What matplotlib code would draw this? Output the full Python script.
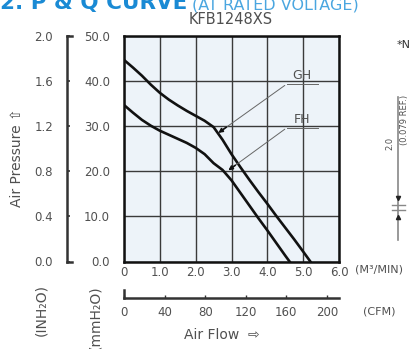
import numpy as np
import matplotlib.pyplot as plt
from matplotlib.lines import Line2D

plt.rcParams['font.family'] = ['DejaVu Sans']

# P-Q curve readings (airflow m3/min, static pressure mmH2O)
flow_gh = [0, 0.25, 0.5, 0.75, 1.0, 1.25, 1.5, 1.75, 2.0, 2.25, 2.5, 2.75,
           3.0, 3.25, 3.5, 3.75, 4.0, 4.25, 4.5, 4.75, 5.0, 5.2]
pres_gh = [44.7, 43.0, 41.2, 39.2, 37.4, 35.9, 34.6, 33.4, 32.3, 31.2, 29.8, 27.0,
           23.8, 20.9, 18.1, 15.4, 12.8, 10.1, 7.5, 4.9, 2.2, 0.0]

flow_fh = [0, 0.25, 0.5, 0.75, 1.0, 1.25, 1.5, 1.75, 2.0, 2.25, 2.5, 2.75,
           3.0, 3.25, 3.5, 3.75, 4.0, 4.25, 4.5, 4.62]
pres_fh = [34.7, 33.0, 31.4, 30.1, 29.0, 28.1, 27.2, 26.3, 25.2, 23.8, 21.8, 20.3,
           18.0, 15.2, 12.4, 9.6, 6.9, 4.1, 1.3, 0.0]

x_ticks = [0, 1, 2, 3, 4, 5, 6]
x_labels = ['0', '1.0', '2.0', '3.0', '4.0', '5.0', '6.0']
y_ticks = [0, 10, 20, 30, 40, 50]
y_labels = ['0.0', '10.0', '20.0', '30.0', '40.0', '50.0']
inch_ticks = [0, 0.4, 0.8, 1.2, 1.6, 2.0]
cfm_ticks = [0, 40, 80, 120, 160, 200]

W, H = 409, 349
txt = '#505050'

def px(x, y):
    return x / W, 1 - y / H

fig = plt.figure(figsize=(W / 100, H / 100), dpi=100)
ax = fig.add_axes([124 / W, 1 - 261.5 / H, 215 / W, 225.5 / H])
ax.set_facecolor('#edf3f9')
ax.set_xlim(0, 6)
ax.set_ylim(0, 50)
ax.set_xticks(x_ticks)
ax.set_xticklabels(x_labels)
ax.set_yticks(y_ticks)
ax.set_yticklabels(y_labels)
ax.grid(color='#3a3a3a', lw=1.0)
ax.tick_params(length=0, labelsize=8.5, labelcolor=txt)
ax.tick_params(axis='x', pad=3)
ax.tick_params(axis='y', pad=10)
for s in ax.spines.values():
    s.set_linewidth(1.8)
    s.set_color('#111111')

ax.plot(flow_gh, pres_gh, color='#111111', lw=1.9)
ax.plot(flow_fh, pres_fh, color='#111111', lw=1.9)

# leaders and labels
for name, tip, start in [('GH', (2.63, 28.5), (4.55, 39.4)),
                         ('FH', (2.91, 20.2), (4.55, 29.7))]:
    ax.plot([start[0], 5.4], [start[1], start[1]], color='#666666', lw=0.7)
    ax.annotate('', xy=tip, xytext=start,
                arrowprops=dict(arrowstyle='-', color='#666666', lw=0.7))
    mid = (tip[0] + 0.12 * (start[0] - tip[0]), tip[1] + 0.12 * (start[1] - tip[1]))
    ax.annotate('', xy=tip, xytext=mid,
                arrowprops=dict(arrowstyle='-|>', color='#111111', lw=1.2,
                                mutation_scale=6, shrinkA=0, shrinkB=0))
    ax.text(4.97, start[1] + 0.3, name, fontsize=9, color=txt,
            ha='center', va='bottom')

# inch H2O scale on the left
sec = ax.secondary_yaxis(-0.265, functions=(lambda mm: mm / 25.0, lambda i: i * 25.0))
sec.set_yticks(inch_ticks)
sec.set_yticklabels([f'{v:.1f}' for v in inch_ticks])
sec.tick_params(direction='in', length=2.5, width=1.2, labelsize=8.5,
                labelcolor=txt, pad=10, color='#333333')
sec.spines['left'].set_linewidth(1.8)
sec.spines['left'].set_color('#333333')
for yy in (0, 1):
    ax.plot([-0.265, -0.242], [yy, yy], transform=ax.transAxes, clip_on=False,
            color='#333333', lw=1.8)

# CFM scale under the plot
secx = ax.secondary_xaxis(-0.162, functions=(lambda m: m * 35.3147, lambda c: c / 35.3147))
secx.set_xticks(cfm_ticks)
secx.set_xticklabels([str(v) for v in cfm_ticks])
secx.tick_params(direction='in', length=2.5, width=1.0, labelsize=8.5,
                 labelcolor=txt, pad=6, color='#333333')
secx.spines['bottom'].set_linewidth(1.8)
secx.spines['bottom'].set_color('#333333')
ax.plot([0, 0], [-0.162, -0.125], transform=ax.transAxes, clip_on=False,
        color='#333333', lw=1.8)

# texts around the chart
fig.text(*px(231, 20), 'KFB1248XS', fontsize=10.5, color=txt, ha='center', va='center')
fig.text(*px(355, 269), '(M³/MIN)', fontsize=8, color=txt, ha='left', va='center')
fig.text(*px(379, 312), '(CFM)', fontsize=8, color=txt, ha='center', va='center')
fig.text(*px(222, 335), 'Air Flow  ⇨', fontsize=10, color=txt, ha='center', va='center')
fig.text(*px(17, 158), 'Air Pressure ⇧', fontsize=10, color=txt, ha='center',
         va='center', rotation=90)
fig.text(*px(41, 310), '(INH₂O)', fontsize=10, color=txt, ha='center',
         va='center', rotation=90)
fig.text(*px(95, 318), '(mmH₂O)', fontsize=10, color=txt, ha='center',
         va='center', rotation=90)

# header, cut by the top edge
fig.text(*px(0, 9), '2. P & Q CURVE', fontsize=15.5, fontweight='bold',
         color='#1a8ad4', ha='left', va='baseline')
fig.text(*px(192, 9), '(AT RATED VOLTAGE)', fontsize=11.5,
         color='#4aa6e0', ha='left', va='baseline')
fig.text(*px(397, 45), '*NOTE', fontsize=8, color='#333333', ha='left', va='center')

# dimension sketch on the right edge
dim = '#888888'
fig.add_artist(Line2D([398 / W, 398 / W], [1 - 97 / H, 1 - 240 / H], color=dim, lw=1.2))
for yy in (205, 210):
    fig.add_artist(Line2D([392 / W, 405 / W], [1 - yy / H, 1 - yy / H], color=dim, lw=1.0))
fig.add_artist(Line2D([398 / W], [1 - 198 / H], marker='v', color='#222222', ms=3))
fig.add_artist(Line2D([398 / W], [1 - 217 / H], marker='^', color='#222222', ms=3))
fig.text(*px(390, 143), '2.0', fontsize=6, color=txt, ha='center', va='center', rotation=90)
fig.text(*px(405, 120), '(0.079 REF.)', fontsize=6, color=txt, ha='center',
         va='center', rotation=90)

fig.savefig('out.png', dpi=100)
